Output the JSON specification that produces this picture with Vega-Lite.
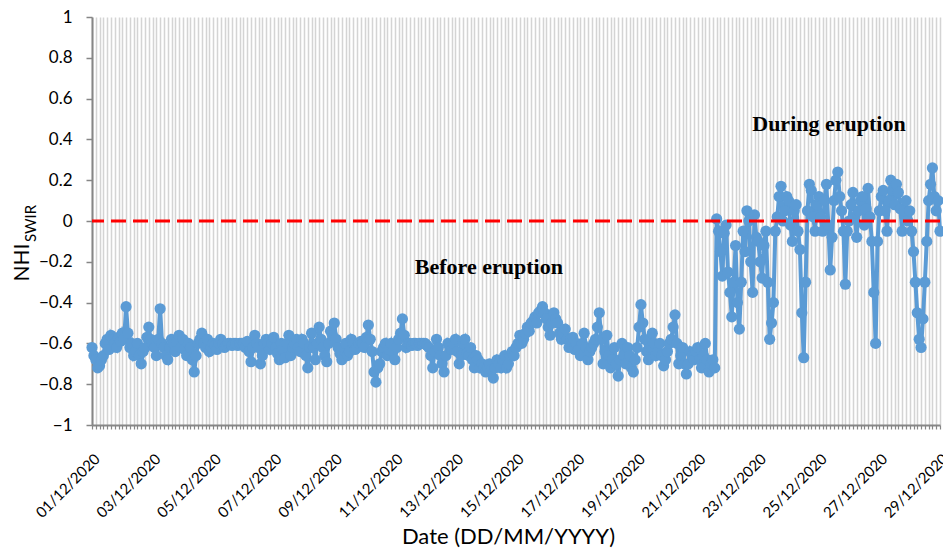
{
  "$schema": "https://vega.github.io/schema/vega-lite/v6.json",
  "width": 848,
  "height": 408,
  "autosize": {"type": "none"},
  "padding": {"left": 92, "top": 17, "right": 3, "bottom": 127},
  "background": "white",
  "config": {"view": {"stroke": null}, "font": "Lato"},
  "datasets": {
    "nhi": [
      {"t":"2020-12-01T00:00","v":-0.62},{"t":"2020-12-01T01:30","v":-0.66},{"t":"2020-12-01T03:00","v":-0.68},{"t":"2020-12-01T04:30","v":-0.72},{"t":"2020-12-01T06:00","v":-0.71},{"t":"2020-12-01T07:30","v":-0.68},{"t":"2020-12-01T09:00","v":-0.66},{"t":"2020-12-01T10:30","v":-0.60},{"t":"2020-12-01T12:00","v":-0.58},{"t":"2020-12-01T13:30","v":-0.63},{"t":"2020-12-01T15:00","v":-0.56},{"t":"2020-12-01T16:30","v":-0.58},{"t":"2020-12-01T18:00","v":-0.60},{"t":"2020-12-01T19:30","v":-0.62},{"t":"2020-12-01T21:00","v":-0.57},{"t":"2020-12-01T22:30","v":-0.59},
      {"t":"2020-12-02T00:00","v":-0.55},{"t":"2020-12-02T01:30","v":-0.58},{"t":"2020-12-02T03:00","v":-0.42},{"t":"2020-12-02T04:30","v":-0.55},{"t":"2020-12-02T06:00","v":-0.62},{"t":"2020-12-02T07:30","v":-0.60},{"t":"2020-12-02T09:00","v":-0.66},{"t":"2020-12-02T10:30","v":-0.64},{"t":"2020-12-02T12:00","v":-0.60},{"t":"2020-12-02T13:30","v":-0.66},{"t":"2020-12-02T15:00","v":-0.70},{"t":"2020-12-02T16:30","v":-0.64},{"t":"2020-12-02T18:00","v":-0.62},{"t":"2020-12-02T19:30","v":-0.57},{"t":"2020-12-02T21:00","v":-0.52},{"t":"2020-12-02T22:30","v":-0.58},
      {"t":"2020-12-03T00:00","v":-0.60},{"t":"2020-12-03T01:30","v":-0.62},{"t":"2020-12-03T03:00","v":-0.66},{"t":"2020-12-03T04:30","v":-0.58},{"t":"2020-12-03T06:00","v":-0.43},{"t":"2020-12-03T07:30","v":-0.60},{"t":"2020-12-03T09:00","v":-0.62},{"t":"2020-12-03T10:30","v":-0.66},{"t":"2020-12-03T12:00","v":-0.68},{"t":"2020-12-03T13:30","v":-0.62},{"t":"2020-12-03T15:00","v":-0.58},{"t":"2020-12-03T16:30","v":-0.60},{"t":"2020-12-03T18:00","v":-0.64},{"t":"2020-12-03T19:30","v":-0.59},{"t":"2020-12-03T21:00","v":-0.56},{"t":"2020-12-03T22:30","v":-0.62},
      {"t":"2020-12-04T00:00","v":-0.58},{"t":"2020-12-04T01:30","v":-0.63},{"t":"2020-12-04T03:00","v":-0.66},{"t":"2020-12-04T04:30","v":-0.60},{"t":"2020-12-04T06:00","v":-0.62},{"t":"2020-12-04T07:30","v":-0.68},{"t":"2020-12-04T09:00","v":-0.74},{"t":"2020-12-04T10:30","v":-0.66},{"t":"2020-12-04T12:00","v":-0.60},{"t":"2020-12-04T13:30","v":-0.58},{"t":"2020-12-04T15:00","v":-0.55},{"t":"2020-12-04T16:30","v":-0.60},{"t":"2020-12-04T18:00","v":-0.62},{"t":"2020-12-04T19:30","v":-0.58},{"t":"2020-12-04T21:00","v":-0.64},{"t":"2020-12-04T22:30","v":-0.62},
      {"t":"2020-12-05T00:00","v":-0.60},{"t":"2020-12-05T01:30","v":-0.61},{"t":"2020-12-05T03:00","v":-0.63},{"t":"2020-12-05T04:30","v":-0.60},{"t":"2020-12-05T06:00","v":-0.58},{"t":"2020-12-05T07:30","v":-0.60},{"t":"2020-12-05T09:00","v":-0.62},{"t":"2020-12-05T10:30","v":-0.61},{"t":"2020-12-05T12:00","v":-0.60},{"t":"2020-12-05T13:30","v":-0.60},{"t":"2020-12-05T15:00","v":-0.61},{"t":"2020-12-05T16:30","v":-0.60},{"t":"2020-12-05T18:00","v":-0.60},{"t":"2020-12-05T19:30","v":-0.61},{"t":"2020-12-05T21:00","v":-0.60},{"t":"2020-12-05T22:30","v":-0.60},
      {"t":"2020-12-06T00:00","v":-0.60},{"t":"2020-12-06T01:30","v":-0.62},{"t":"2020-12-06T03:00","v":-0.59},{"t":"2020-12-06T04:30","v":-0.64},{"t":"2020-12-06T06:00","v":-0.69},{"t":"2020-12-06T07:30","v":-0.62},{"t":"2020-12-06T09:00","v":-0.56},{"t":"2020-12-06T10:30","v":-0.60},{"t":"2020-12-06T12:00","v":-0.62},{"t":"2020-12-06T13:30","v":-0.70},{"t":"2020-12-06T15:00","v":-0.66},{"t":"2020-12-06T16:30","v":-0.60},{"t":"2020-12-06T18:00","v":-0.58},{"t":"2020-12-06T19:30","v":-0.60},{"t":"2020-12-06T21:00","v":-0.63},{"t":"2020-12-06T22:30","v":-0.60},
      {"t":"2020-12-07T00:00","v":-0.57},{"t":"2020-12-07T01:30","v":-0.62},{"t":"2020-12-07T03:00","v":-0.65},{"t":"2020-12-07T04:30","v":-0.68},{"t":"2020-12-07T06:00","v":-0.60},{"t":"2020-12-07T07:30","v":-0.63},{"t":"2020-12-07T09:00","v":-0.67},{"t":"2020-12-07T10:30","v":-0.60},{"t":"2020-12-07T12:00","v":-0.56},{"t":"2020-12-07T13:30","v":-0.66},{"t":"2020-12-07T15:00","v":-0.62},{"t":"2020-12-07T16:30","v":-0.60},{"t":"2020-12-07T18:00","v":-0.58},{"t":"2020-12-07T19:30","v":-0.62},{"t":"2020-12-07T21:00","v":-0.64},{"t":"2020-12-07T22:30","v":-0.58},
      {"t":"2020-12-08T00:00","v":-0.60},{"t":"2020-12-08T01:30","v":-0.66},{"t":"2020-12-08T03:00","v":-0.72},{"t":"2020-12-08T04:30","v":-0.62},{"t":"2020-12-08T06:00","v":-0.55},{"t":"2020-12-08T07:30","v":-0.62},{"t":"2020-12-08T09:00","v":-0.68},{"t":"2020-12-08T10:30","v":-0.60},{"t":"2020-12-08T12:00","v":-0.52},{"t":"2020-12-08T13:30","v":-0.58},{"t":"2020-12-08T15:00","v":-0.62},{"t":"2020-12-08T16:30","v":-0.66},{"t":"2020-12-08T18:00","v":-0.69},{"t":"2020-12-08T19:30","v":-0.60},{"t":"2020-12-08T21:00","v":-0.54},{"t":"2020-12-08T22:30","v":-0.56},
      {"t":"2020-12-09T00:00","v":-0.50},{"t":"2020-12-09T01:30","v":-0.58},{"t":"2020-12-09T03:00","v":-0.62},{"t":"2020-12-09T04:30","v":-0.65},{"t":"2020-12-09T06:00","v":-0.68},{"t":"2020-12-09T07:30","v":-0.62},{"t":"2020-12-09T09:00","v":-0.60},{"t":"2020-12-09T10:30","v":-0.66},{"t":"2020-12-09T12:00","v":-0.64},{"t":"2020-12-09T13:30","v":-0.58},{"t":"2020-12-09T15:00","v":-0.60},{"t":"2020-12-09T16:30","v":-0.63},{"t":"2020-12-09T18:00","v":-0.62},{"t":"2020-12-09T19:30","v":-0.60},{"t":"2020-12-09T21:00","v":-0.59},{"t":"2020-12-09T22:30","v":-0.60},
      {"t":"2020-12-10T00:00","v":-0.62},{"t":"2020-12-10T01:30","v":-0.57},{"t":"2020-12-10T03:00","v":-0.51},{"t":"2020-12-10T04:30","v":-0.58},{"t":"2020-12-10T06:00","v":-0.64},{"t":"2020-12-10T07:30","v":-0.74},{"t":"2020-12-10T09:00","v":-0.79},{"t":"2020-12-10T10:30","v":-0.72},{"t":"2020-12-10T12:00","v":-0.70},{"t":"2020-12-10T13:30","v":-0.64},{"t":"2020-12-10T15:00","v":-0.62},{"t":"2020-12-10T16:30","v":-0.60},{"t":"2020-12-10T18:00","v":-0.66},{"t":"2020-12-10T19:30","v":-0.63},{"t":"2020-12-10T21:00","v":-0.60},{"t":"2020-12-10T22:30","v":-0.64},
      {"t":"2020-12-11T00:00","v":-0.68},{"t":"2020-12-11T01:30","v":-0.62},{"t":"2020-12-11T03:00","v":-0.58},{"t":"2020-12-11T04:30","v":-0.55},{"t":"2020-12-11T06:00","v":-0.48},{"t":"2020-12-11T07:30","v":-0.56},{"t":"2020-12-11T09:00","v":-0.62},{"t":"2020-12-11T10:30","v":-0.60},{"t":"2020-12-11T12:00","v":-0.60},{"t":"2020-12-11T13:30","v":-0.61},{"t":"2020-12-11T15:00","v":-0.60},{"t":"2020-12-11T16:30","v":-0.60},{"t":"2020-12-11T18:00","v":-0.61},{"t":"2020-12-11T19:30","v":-0.60},{"t":"2020-12-11T21:00","v":-0.60},{"t":"2020-12-11T22:30","v":-0.60},
      {"t":"2020-12-12T00:00","v":-0.60},{"t":"2020-12-12T01:30","v":-0.61},{"t":"2020-12-12T03:00","v":-0.62},{"t":"2020-12-12T04:30","v":-0.66},{"t":"2020-12-12T06:00","v":-0.72},{"t":"2020-12-12T07:30","v":-0.64},{"t":"2020-12-12T09:00","v":-0.58},{"t":"2020-12-12T10:30","v":-0.62},{"t":"2020-12-12T12:00","v":-0.66},{"t":"2020-12-12T13:30","v":-0.70},{"t":"2020-12-12T15:00","v":-0.74},{"t":"2020-12-12T16:30","v":-0.66},{"t":"2020-12-12T18:00","v":-0.60},{"t":"2020-12-12T19:30","v":-0.62},{"t":"2020-12-12T21:00","v":-0.63},{"t":"2020-12-12T22:30","v":-0.60},
      {"t":"2020-12-13T00:00","v":-0.58},{"t":"2020-12-13T01:30","v":-0.64},{"t":"2020-12-13T03:00","v":-0.70},{"t":"2020-12-13T04:30","v":-0.66},{"t":"2020-12-13T06:00","v":-0.60},{"t":"2020-12-13T07:30","v":-0.58},{"t":"2020-12-13T09:00","v":-0.65},{"t":"2020-12-13T10:30","v":-0.66},{"t":"2020-12-13T12:00","v":-0.62},{"t":"2020-12-13T13:30","v":-0.68},{"t":"2020-12-13T15:00","v":-0.72},{"t":"2020-12-13T16:30","v":-0.66},{"t":"2020-12-13T18:00","v":-0.68},{"t":"2020-12-13T19:30","v":-0.72},{"t":"2020-12-13T21:00","v":-0.70},{"t":"2020-12-13T22:30","v":-0.72},
      {"t":"2020-12-14T00:00","v":-0.74},{"t":"2020-12-14T01:30","v":-0.72},{"t":"2020-12-14T03:00","v":-0.70},{"t":"2020-12-14T04:30","v":-0.73},{"t":"2020-12-14T06:00","v":-0.77},{"t":"2020-12-14T07:30","v":-0.72},{"t":"2020-12-14T09:00","v":-0.68},{"t":"2020-12-14T10:30","v":-0.70},{"t":"2020-12-14T12:00","v":-0.72},{"t":"2020-12-14T13:30","v":-0.68},{"t":"2020-12-14T15:00","v":-0.66},{"t":"2020-12-14T16:30","v":-0.72},{"t":"2020-12-14T18:00","v":-0.70},{"t":"2020-12-14T19:30","v":-0.66},{"t":"2020-12-14T21:00","v":-0.64},{"t":"2020-12-14T22:30","v":-0.66},
      {"t":"2020-12-15T00:00","v":-0.62},{"t":"2020-12-15T01:30","v":-0.60},{"t":"2020-12-15T03:00","v":-0.56},{"t":"2020-12-15T04:30","v":-0.60},{"t":"2020-12-15T06:00","v":-0.58},{"t":"2020-12-15T07:30","v":-0.55},{"t":"2020-12-15T09:00","v":-0.52},{"t":"2020-12-15T10:30","v":-0.54},{"t":"2020-12-15T12:00","v":-0.50},{"t":"2020-12-15T13:30","v":-0.49},{"t":"2020-12-15T15:00","v":-0.47},{"t":"2020-12-15T16:30","v":-0.50},{"t":"2020-12-15T18:00","v":-0.45},{"t":"2020-12-15T19:30","v":-0.44},{"t":"2020-12-15T21:00","v":-0.42},{"t":"2020-12-15T22:30","v":-0.45},
      {"t":"2020-12-16T00:00","v":-0.48},{"t":"2020-12-16T01:30","v":-0.52},{"t":"2020-12-16T03:00","v":-0.56},{"t":"2020-12-16T04:30","v":-0.50},{"t":"2020-12-16T06:00","v":-0.45},{"t":"2020-12-16T07:30","v":-0.48},{"t":"2020-12-16T09:00","v":-0.50},{"t":"2020-12-16T10:30","v":-0.55},{"t":"2020-12-16T12:00","v":-0.58},{"t":"2020-12-16T13:30","v":-0.55},{"t":"2020-12-16T15:00","v":-0.53},{"t":"2020-12-16T16:30","v":-0.58},{"t":"2020-12-16T18:00","v":-0.62},{"t":"2020-12-16T19:30","v":-0.58},{"t":"2020-12-16T21:00","v":-0.57},{"t":"2020-12-16T22:30","v":-0.63},
      {"t":"2020-12-17T00:00","v":-0.60},{"t":"2020-12-17T01:30","v":-0.63},{"t":"2020-12-17T03:00","v":-0.66},{"t":"2020-12-17T04:30","v":-0.60},{"t":"2020-12-17T06:00","v":-0.55},{"t":"2020-12-17T07:30","v":-0.62},{"t":"2020-12-17T09:00","v":-0.68},{"t":"2020-12-17T10:30","v":-0.64},{"t":"2020-12-17T12:00","v":-0.62},{"t":"2020-12-17T13:30","v":-0.60},{"t":"2020-12-17T15:00","v":-0.58},{"t":"2020-12-17T16:30","v":-0.52},{"t":"2020-12-17T18:00","v":-0.45},{"t":"2020-12-17T19:30","v":-0.58},{"t":"2020-12-17T21:00","v":-0.70},{"t":"2020-12-17T22:30","v":-0.64},
      {"t":"2020-12-18T00:00","v":-0.56},{"t":"2020-12-18T01:30","v":-0.66},{"t":"2020-12-18T03:00","v":-0.72},{"t":"2020-12-18T04:30","v":-0.68},{"t":"2020-12-18T06:00","v":-0.62},{"t":"2020-12-18T07:30","v":-0.70},{"t":"2020-12-18T09:00","v":-0.76},{"t":"2020-12-18T10:30","v":-0.68},{"t":"2020-12-18T12:00","v":-0.60},{"t":"2020-12-18T13:30","v":-0.66},{"t":"2020-12-18T15:00","v":-0.70},{"t":"2020-12-18T16:30","v":-0.62},{"t":"2020-12-18T18:00","v":-0.66},{"t":"2020-12-18T19:30","v":-0.72},{"t":"2020-12-18T21:00","v":-0.74},{"t":"2020-12-18T22:30","v":-0.68},
      {"t":"2020-12-19T00:00","v":-0.62},{"t":"2020-12-19T01:30","v":-0.52},{"t":"2020-12-19T03:00","v":-0.41},{"t":"2020-12-19T04:30","v":-0.50},{"t":"2020-12-19T06:00","v":-0.58},{"t":"2020-12-19T07:30","v":-0.64},{"t":"2020-12-19T09:00","v":-0.68},{"t":"2020-12-19T10:30","v":-0.62},{"t":"2020-12-19T12:00","v":-0.55},{"t":"2020-12-19T13:30","v":-0.60},{"t":"2020-12-19T15:00","v":-0.66},{"t":"2020-12-19T16:30","v":-0.64},{"t":"2020-12-19T18:00","v":-0.60},{"t":"2020-12-19T19:30","v":-0.66},{"t":"2020-12-19T21:00","v":-0.71},{"t":"2020-12-19T22:30","v":-0.68},
      {"t":"2020-12-20T00:00","v":-0.64},{"t":"2020-12-20T01:30","v":-0.60},{"t":"2020-12-20T03:00","v":-0.58},{"t":"2020-12-20T04:30","v":-0.52},{"t":"2020-12-20T06:00","v":-0.46},{"t":"2020-12-20T07:30","v":-0.60},{"t":"2020-12-20T09:00","v":-0.70},{"t":"2020-12-20T10:30","v":-0.66},{"t":"2020-12-20T12:00","v":-0.62},{"t":"2020-12-20T13:30","v":-0.70},{"t":"2020-12-20T15:00","v":-0.75},{"t":"2020-12-20T16:30","v":-0.70},{"t":"2020-12-20T18:00","v":-0.64},{"t":"2020-12-20T19:30","v":-0.66},{"t":"2020-12-20T21:00","v":-0.68},{"t":"2020-12-20T22:30","v":-0.64},
      {"t":"2020-12-21T00:00","v":-0.62},{"t":"2020-12-21T01:30","v":-0.68},{"t":"2020-12-21T03:00","v":-0.72},{"t":"2020-12-21T04:30","v":-0.66},{"t":"2020-12-21T06:00","v":-0.60},{"t":"2020-12-21T07:30","v":-0.68},{"t":"2020-12-21T09:00","v":-0.74},{"t":"2020-12-21T10:30","v":-0.70},{"t":"2020-12-21T12:00","v":-0.68},{"t":"2020-12-21T13:30","v":-0.72},{"t":"2020-12-21T15:00","v":0.01},{"t":"2020-12-21T16:30","v":-0.05},{"t":"2020-12-21T18:00","v":-0.15},{"t":"2020-12-21T19:30","v":-0.27},{"t":"2020-12-21T21:00","v":-0.06},{"t":"2020-12-21T22:30","v":-0.02},
      {"t":"2020-12-22T00:00","v":-0.25},{"t":"2020-12-22T01:30","v":-0.35},{"t":"2020-12-22T03:00","v":-0.47},{"t":"2020-12-22T04:30","v":-0.30},{"t":"2020-12-22T06:00","v":-0.12},{"t":"2020-12-22T07:30","v":-0.40},{"t":"2020-12-22T09:00","v":-0.53},{"t":"2020-12-22T10:30","v":-0.30},{"t":"2020-12-22T12:00","v":-0.05},{"t":"2020-12-22T13:30","v":-0.15},{"t":"2020-12-22T15:00","v":0.05},{"t":"2020-12-22T16:30","v":0.00},{"t":"2020-12-22T18:00","v":-0.20},{"t":"2020-12-22T19:30","v":-0.35},{"t":"2020-12-22T21:00","v":0.03},{"t":"2020-12-22T22:30","v":-0.08},
      {"t":"2020-12-23T00:00","v":-0.10},{"t":"2020-12-23T01:30","v":-0.20},{"t":"2020-12-23T03:00","v":-0.28},{"t":"2020-12-23T04:30","v":-0.12},{"t":"2020-12-23T06:00","v":-0.05},{"t":"2020-12-23T07:30","v":-0.30},{"t":"2020-12-23T09:00","v":-0.58},{"t":"2020-12-23T10:30","v":-0.50},{"t":"2020-12-23T12:00","v":-0.40},{"t":"2020-12-23T13:30","v":-0.05},{"t":"2020-12-23T15:00","v":0.02},{"t":"2020-12-23T16:30","v":0.12},{"t":"2020-12-23T18:00","v":0.17},{"t":"2020-12-23T19:30","v":0.00},{"t":"2020-12-23T21:00","v":0.05},{"t":"2020-12-23T22:30","v":0.12},
      {"t":"2020-12-24T00:00","v":0.10},{"t":"2020-12-24T01:30","v":-0.02},{"t":"2020-12-24T03:00","v":-0.10},{"t":"2020-12-24T04:30","v":0.05},{"t":"2020-12-24T06:00","v":0.08},{"t":"2020-12-24T07:30","v":-0.05},{"t":"2020-12-24T09:00","v":-0.14},{"t":"2020-12-24T10:30","v":-0.45},{"t":"2020-12-24T12:00","v":-0.67},{"t":"2020-12-24T13:30","v":-0.30},{"t":"2020-12-24T15:00","v":0.05},{"t":"2020-12-24T16:30","v":0.18},{"t":"2020-12-24T18:00","v":0.15},{"t":"2020-12-24T19:30","v":0.02},{"t":"2020-12-24T21:00","v":-0.05},{"t":"2020-12-24T22:30","v":0.08},
      {"t":"2020-12-25T00:00","v":0.12},{"t":"2020-12-25T01:30","v":0.02},{"t":"2020-12-25T03:00","v":-0.05},{"t":"2020-12-25T04:30","v":0.10},{"t":"2020-12-25T06:00","v":0.18},{"t":"2020-12-25T07:30","v":-0.02},{"t":"2020-12-25T09:00","v":-0.24},{"t":"2020-12-25T10:30","v":-0.08},{"t":"2020-12-25T12:00","v":0.10},{"t":"2020-12-25T13:30","v":0.20},{"t":"2020-12-25T15:00","v":0.24},{"t":"2020-12-25T16:30","v":0.12},{"t":"2020-12-25T18:00","v":0.05},{"t":"2020-12-25T19:30","v":-0.05},{"t":"2020-12-25T21:00","v":-0.31},{"t":"2020-12-25T22:30","v":-0.05},
      {"t":"2020-12-26T00:00","v":0.00},{"t":"2020-12-26T01:30","v":0.08},{"t":"2020-12-26T03:00","v":0.14},{"t":"2020-12-26T04:30","v":0.02},{"t":"2020-12-26T06:00","v":-0.08},{"t":"2020-12-26T07:30","v":0.05},{"t":"2020-12-26T09:00","v":0.10},{"t":"2020-12-26T10:30","v":0.12},{"t":"2020-12-26T12:00","v":-0.02},{"t":"2020-12-26T13:30","v":0.06},{"t":"2020-12-26T15:00","v":0.16},{"t":"2020-12-26T16:30","v":0.02},{"t":"2020-12-26T18:00","v":-0.10},{"t":"2020-12-26T19:30","v":-0.35},{"t":"2020-12-26T21:00","v":-0.60},{"t":"2020-12-26T22:30","v":-0.10},
      {"t":"2020-12-27T00:00","v":0.05},{"t":"2020-12-27T01:30","v":0.12},{"t":"2020-12-27T03:00","v":0.15},{"t":"2020-12-27T04:30","v":0.05},{"t":"2020-12-27T06:00","v":-0.05},{"t":"2020-12-27T07:30","v":0.10},{"t":"2020-12-27T09:00","v":0.20},{"t":"2020-12-27T10:30","v":0.15},{"t":"2020-12-27T12:00","v":0.08},{"t":"2020-12-27T13:30","v":0.18},{"t":"2020-12-27T15:00","v":0.14},{"t":"2020-12-27T16:30","v":0.06},{"t":"2020-12-27T18:00","v":-0.05},{"t":"2020-12-27T19:30","v":0.05},{"t":"2020-12-27T21:00","v":0.10},{"t":"2020-12-27T22:30","v":0.00},
      {"t":"2020-12-28T00:00","v":0.05},{"t":"2020-12-28T01:30","v":-0.05},{"t":"2020-12-28T03:00","v":-0.15},{"t":"2020-12-28T04:30","v":-0.30},{"t":"2020-12-28T06:00","v":-0.45},{"t":"2020-12-28T07:30","v":-0.58},{"t":"2020-12-28T09:00","v":-0.62},{"t":"2020-12-28T10:30","v":-0.48},{"t":"2020-12-28T12:00","v":-0.30},{"t":"2020-12-28T13:30","v":-0.10},{"t":"2020-12-28T15:00","v":0.10},{"t":"2020-12-28T16:30","v":0.18},{"t":"2020-12-28T18:00","v":0.26},{"t":"2020-12-28T19:30","v":0.12},{"t":"2020-12-28T21:00","v":0.05},{"t":"2020-12-28T22:30","v":0.10},
      {"t":"2020-12-29T00:00","v":-0.05}
    ],
    "notes": [
      {"t":"2020-12-14T02:30","v":-0.26,"label":"Before eruption"},
      {"t":"2020-12-25T08:00","v":0.44,"label":"During eruption"}
    ]
  },
  "layer": [
    {
      "data": {"name": "nhi"},
      "mark": {"type": "line", "color": "#5b9bd5", "strokeWidth": 4, "point": {"filled": true, "size": 125, "color": "#5b9bd5", "opacity": 1}},
      "encoding": {
        "x": {
          "field": "t", "type": "temporal",
          "scale": {"domain": [{"year": 2020, "month": 12, "date": 1}, {"year": 2020, "month": 12, "date": 29}]},
          "axis": {
            "title": "Date (DD/MM/YYYY)",
            "tickCount": 200,
            "labelExpr": "hours(datum.value) == 0 && date(datum.value) % 2 == 1 ? timeFormat(datum.value, '%d/%m/%Y') : ''",
            "labelAngle": -45, "labelAlign": "right", "labelBaseline": "top",
            "labelPadding": 22, "labelFontSize": 15, "labelColor": "#000",
            "labelOverlap": false, "labelFlush": false,
            "tickSize": 4, "tickColor": "#868686", "tickWidth": 1.2,
            "domainColor": "#868686", "domainWidth": 2,
            "grid": true, "gridColor": "#d4d4d4", "gridWidth": 1.5,
            "titleFontSize": 22, "titleFontWeight": "normal", "titleColor": "#000",
            "titleX": 416, "titleY": 118, "titleBaseline": "alphabetic"
          }
        },
        "y": {
          "field": "v", "type": "quantitative",
          "scale": {"domain": [-1, 1], "nice": false},
          "axis": {
            "title": "NHI",
            "values": [-1, -0.8, -0.6, -0.4, -0.2, 0, 0.2, 0.4, 0.6, 0.8, 1],
            "format": ".1~f",
            "labelFontSize": 17, "labelColor": "#000", "labelPadding": 14,
            "tickSize": 6, "tickColor": "#868686", "tickWidth": 1.5,
            "domainColor": "#868686", "domainWidth": 2, "grid": false,
            "titleFontSize": 21, "titleFontWeight": "normal", "titleColor": "#000",
            "titleX": -64, "titleY": 245, "titleAngle": 270, "titleBaseline": "alphabetic", "titleAlign": "center"
          }
        }
      }
    },
    {
      "data": {"values": [{}]},
      "mark": {"type": "rule", "color": "#ff0000", "strokeWidth": 3, "strokeDash": [15, 7]},
      "encoding": {
        "y": {
          "datum": 0, "type": "quantitative",
          "axis": {
            "orient": "left", "title": "SWIR", "labels": false, "ticks": false, "domain": false, "grid": false,
            "titleFontSize": 15, "titleFontWeight": "normal", "titleColor": "#000",
            "titleX": -57, "titleY": 206, "titleAngle": 270, "titleBaseline": "alphabetic", "titleAlign": "center"
          }
        }
      }
    },
    {
      "data": {"name": "notes"},
      "mark": {"type": "text", "font": "Liberation Serif", "fontWeight": "bold", "fontSize": 22, "baseline": "alphabetic", "align": "center", "color": "#000"},
      "encoding": {
        "x": {"field": "t", "type": "temporal"},
        "y": {"field": "v", "type": "quantitative", "axis": null},
        "text": {"field": "label"}
      }
    }
  ],
  "resolve": {"axis": {"y": "independent"}}
}
